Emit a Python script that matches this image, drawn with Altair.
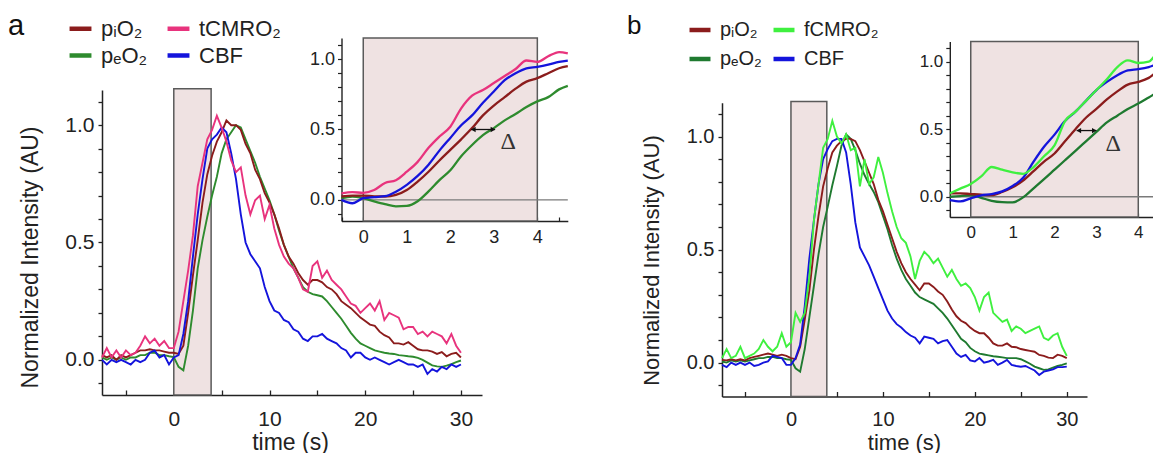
import altair as alt
import pandas as pd

W, H = 1145, 445
FONT = "Liberation Sans, Arial, DejaVu Sans, sans-serif"
INK = "#222222"

# ---------------- data ----------------
T_MAIN = [-7.5 + 0.5 * i for i in range(76)]
T_INSET = [-0.5, -0.25, 0.0, 0.25, 0.5, 0.75, 1.0, 1.25, 1.5, 1.75, 2.0,
           2.25, 2.5, 2.75, 3.0, 3.25, 3.5, 3.75, 4.0, 4.25, 4.5, 4.7]

PIO2 = "p\u1d62O\u2082"
PEO2 = "p\u2091O\u2082"
TCMRO2 = "tCMRO\u2082"
FCMRO2 = "fCMRO\u2082"
CBF = "CBF"

# legend is filled column by column: column 1 = pO2 pair, column 2 = CMRO2 / CBF
NAMES_A = [PIO2, PEO2, TCMRO2, CBF]
COLORS_A = ["#8b1c1c", "#2e8b2e", "#e8337d", "#1414dc"]
NAMES_B = [PIO2, PEO2, FCMRO2, CBF]
COLORS_B = ["#8b1c1c", "#1f7a30", "#3ff03f", "#1414dc"]
DRAW_A = [PEO2, PIO2, CBF, TCMRO2]
DRAW_B = [PEO2, PIO2, CBF, FCMRO2]

A_PIO2 = [0.02, 0.01, 0.02, 0.00, 0.02, 0.01, 0.02, 0.03, 0.04, 0.04,
          0.045, 0.04, 0.04, 0.035, 0.03, 0.03, 0.025, 0.06, 0.20, 0.36,
          0.51, 0.67, 0.79, 0.87, 0.93, 0.97, 1.02, 1.00, 1.00, 0.98,
          0.92, 0.88, 0.81, 0.77, 0.71, 0.67, 0.62, 0.56, 0.49, 0.44,
          0.41, 0.37, 0.34, 0.32, 0.34, 0.34, 0.33, 0.31, 0.30, 0.28,
          0.25, 0.235, 0.22, 0.20, 0.18, 0.165, 0.15, 0.145, 0.12, 0.105,
          0.095, 0.07, 0.07, 0.065, 0.075, 0.06, 0.045, 0.04, 0.04, 0.035,
          0.025, 0.033, 0.015, 0.025, 0.03, 0.01]
A_PEO2 = [0.01, 0.00, 0.01, 0.00, 0.01, 0.00, 0.01, 0.01, 0.02, 0.02,
          0.03, 0.03, 0.02, 0.02, 0.015, 0.012, -0.03, -0.045, 0.06, 0.21,
          0.39, 0.51, 0.61, 0.70, 0.78, 0.88, 0.94, 0.97, 1.00, 0.99,
          0.94, 0.89, 0.84, 0.78, 0.73, 0.68, 0.62, 0.55, 0.49, 0.44,
          0.39, 0.35, 0.31, 0.29, 0.28, 0.275, 0.27, 0.25, 0.225, 0.20,
          0.175, 0.145, 0.115, 0.09, 0.07, 0.06, 0.05, 0.04, 0.035, 0.03,
          0.027, 0.025, 0.02, 0.018, 0.015, 0.013, 0.008, 0.0, -0.012, -0.024,
          -0.028, -0.03, -0.025, -0.018, -0.01, -0.003]
A_TCMRO2 = [0.01, 0.05, 0.01, 0.04, 0.01, 0.04, 0.02, 0.03, 0.06, 0.10,
            0.07, 0.09, 0.06, 0.08, 0.05, 0.05, 0.12, 0.25, 0.38, 0.53,
            0.74, 0.84, 0.94, 0.98, 1.04, 0.99, 0.93, 0.85, 0.80, 0.82,
            0.70, 0.62, 0.68, 0.70, 0.60, 0.66, 0.56, 0.49, 0.44, 0.41,
            0.39, 0.35, 0.30, 0.29, 0.40, 0.42, 0.35, 0.38, 0.34, 0.32,
            0.30, 0.27, 0.24, 0.23, 0.20, 0.22, 0.24, 0.21, 0.25, 0.17,
            0.20, 0.19, 0.18, 0.13, 0.14, 0.14, 0.11, 0.12, 0.10, 0.12,
            0.11, 0.10, 0.07, 0.11, 0.06, 0.03]
A_CBF = [0.00, -0.02, 0.00, -0.01, 0.00, -0.01, -0.02, 0.00, -0.01, 0.00,
         0.03, 0.04, 0.01, 0.02, -0.02, 0.01, 0.02, 0.11, 0.25, 0.44,
         0.62, 0.77, 0.90, 0.94, 0.96, 0.99, 0.97, 0.88, 0.77, 0.62,
         0.50, 0.45, 0.42, 0.39, 0.31, 0.25, 0.21, 0.20, 0.17, 0.16,
         0.13, 0.12, 0.09, 0.08, 0.10, 0.10, 0.11, 0.09, 0.08, 0.07,
         0.05, 0.04, 0.01, 0.03, 0.03, 0.01, 0.00, 0.01, 0.00, -0.01,
         -0.02, -0.01, 0.00, -0.01, -0.02, -0.02, -0.03, -0.02, -0.06, -0.04,
         -0.05, -0.03, -0.04, -0.02, -0.03, -0.02]

B_PIO2 = [0.012, 0.01, 0.015, 0.01, 0.015, 0.01, 0.02, 0.025, 0.03, 0.035,
          0.04, 0.035, 0.03, 0.035, 0.03, 0.02, 0.015, 0.07, 0.19, 0.32,
          0.50, 0.65, 0.78, 0.86, 0.93, 0.96, 0.98, 0.99, 0.99, 0.98,
          0.94, 0.89, 0.84, 0.79, 0.72, 0.67, 0.61, 0.55, 0.49, 0.44,
          0.40, 0.37, 0.345, 0.32, 0.35, 0.35, 0.335, 0.315, 0.30, 0.27,
          0.235, 0.205, 0.185, 0.175, 0.155, 0.14, 0.13, 0.13, 0.11, 0.085,
          0.075, 0.075, 0.085, 0.07, 0.068, 0.06, 0.056, 0.052, 0.048, 0.034,
          0.03, 0.022, 0.02, 0.035, 0.03, 0.02]
B_PEO2 = [0.005, 0.0, 0.01, 0.005, 0.01, 0.005, 0.01, 0.015, 0.02, 0.02,
          0.025, 0.025, 0.02, 0.02, 0.015, 0.012, -0.025, -0.04, 0.06, 0.20,
          0.34, 0.48, 0.60, 0.69, 0.785, 0.87, 0.96, 1.01, 0.99, 0.94,
          0.88, 0.83, 0.79, 0.755, 0.71, 0.65, 0.59, 0.52, 0.46, 0.41,
          0.37, 0.34, 0.31, 0.29, 0.28, 0.27, 0.26, 0.24, 0.22, 0.195,
          0.165, 0.135, 0.105, 0.09, 0.065, 0.05, 0.04, 0.036, 0.032, 0.028,
          0.026, 0.023, 0.02, 0.02, 0.02, 0.015, 0.005, -0.005, -0.018, -0.025,
          -0.032, -0.03, -0.022, -0.015, -0.01, -0.003]
B_FCMRO2 = [0.02, 0.06, 0.02, 0.03, 0.07, 0.02, 0.03, 0.04, 0.06, 0.10,
            0.07, 0.05, 0.07, 0.13, 0.07, 0.09, 0.22, 0.18, 0.22, 0.38,
            0.63, 0.79, 0.95, 0.99, 1.07, 1.00, 0.97, 1.01, 0.94, 0.95,
            0.78, 0.90, 0.79, 0.82, 0.91, 0.84, 0.75, 0.67, 0.60, 0.55,
            0.53, 0.47, 0.37, 0.45, 0.49, 0.47, 0.44, 0.46, 0.42, 0.38,
            0.41, 0.37, 0.34, 0.35, 0.33, 0.29, 0.23, 0.29, 0.31, 0.22,
            0.20, 0.18, 0.19, 0.14, 0.16, 0.15, 0.13, 0.14, 0.15, 0.16,
            0.11, 0.10, 0.12, 0.13, 0.07, 0.03]
B_CBF = [-0.01, -0.02, 0.0, -0.01, 0.0, -0.01, 0.0, -0.015, -0.01, 0.0,
         0.005, 0.03, 0.025, 0.02, -0.01, -0.01, 0.02, 0.08, 0.25, 0.46,
         0.63, 0.79, 0.90, 0.945, 0.98, 0.99, 0.99, 0.93, 0.79, 0.62,
         0.51, 0.47, 0.43, 0.38, 0.33, 0.28, 0.23, 0.195, 0.17, 0.155,
         0.135, 0.12, 0.11, 0.085, 0.115, 0.11, 0.105, 0.085, 0.095, 0.10,
         0.07, 0.04, 0.025, 0.034, 0.01, 0.005, 0.02, 0.0, 0.005, 0.012,
         -0.01, 0.0, 0.012, -0.01, -0.015, -0.018, -0.015, -0.025, -0.035, -0.055,
         -0.04, -0.035, -0.03, -0.02, -0.02, -0.018]

IA_PIO2 = [0.024, 0.03, 0.03, 0.025, 0.024, 0.035, 0.07, 0.13, 0.2, 0.28, 0.355,
           0.43, 0.51, 0.6, 0.67, 0.73, 0.79, 0.84, 0.865, 0.9, 0.935, 0.95]
IA_PEO2 = [0.012, 0.024, 0.012, -0.01, -0.03, -0.046, -0.043, -0.01, 0.06, 0.14, 0.21,
           0.31, 0.39, 0.46, 0.51, 0.565, 0.61, 0.66, 0.70, 0.73, 0.785, 0.81]
IA_TCMRO2 = [0.047, 0.055, 0.05, 0.07, 0.12, 0.14, 0.2, 0.27, 0.37, 0.45, 0.52,
             0.65, 0.74, 0.78, 0.83, 0.88, 0.93, 0.99, 0.98, 1.02, 1.05, 1.04]
IA_CBF = [0.0, -0.024, 0.012, 0.02, 0.026, 0.058, 0.107, 0.17, 0.25, 0.35, 0.44,
          0.53, 0.6, 0.69, 0.77, 0.85, 0.9, 0.935, 0.945, 0.96, 0.98, 0.99]
IB_PIO2 = [0.025, 0.025, 0.02, 0.015, 0.012, 0.035, 0.07, 0.12, 0.19, 0.26, 0.32,
           0.41, 0.5, 0.585, 0.65, 0.72, 0.78, 0.83, 0.85, 0.88, 0.935, 0.95]
IB_PEO2 = [0.0, 0.005, 0.012, -0.008, -0.03, -0.04, -0.042, -0.005, 0.062, 0.13, 0.2,
           0.27, 0.34, 0.41, 0.48, 0.55, 0.6, 0.65, 0.69, 0.735, 0.78, 0.81]
IB_FCMRO2 = [0.025, 0.06, 0.094, 0.15, 0.22, 0.2, 0.18, 0.17, 0.22, 0.3, 0.38,
             0.56, 0.63, 0.71, 0.79, 0.87, 0.96, 1.01, 0.99, 1.0, 1.07, 1.07]
IB_CBF = [-0.025, -0.035, -0.012, 0.01, 0.02, 0.04, 0.08, 0.14, 0.26, 0.37, 0.46,
          0.56, 0.63, 0.71, 0.79, 0.85, 0.9, 0.935, 0.945, 0.96, 0.985, 0.99]

STIM_MAIN = [0.0, 3.9]
STIM_INSET = [0.0, 4.0]
DELTA_A = [2.48, 3.03, 0.5]
DELTA_B = [2.53, 3.0, 0.49]
DELTA_TXT_A = [3.33, 0.41]
DELTA_TXT_B = [3.4, 0.39]

X_MAIN_TICKS = [-5, 0, 5, 10, 15, 20, 25, 30]
Y_TICKS = [round(-0.1 + 0.1 * i, 1) for i in range(13)]
X_INSET_LABELS = [0, 1, 2, 3, 4]
X_INSET_TICKS = [-0.5, 0, 0.5, 1, 1.5, 2, 2.5, 3, 3.5, 4, 4.5]

Y_LABEL_EXPR = "abs(round(datum.value*10)) % 5 == 0 ? format(datum.value, '.1f') : ''"


def long(t, data, order):
    return pd.DataFrame([{"t": tt, "v": vv, "s": name}
                         for name in order for tt, vv in zip(t, data[name])])


def main_panel(df, names, colors, xr, yr, ax_x, ax_y, lab_size, title_size,
               leg, xt, yt):
    xsc = alt.Scale(domain=[-7.5, 32.2], range=xr, nice=False, zero=False)
    ysc = alt.Scale(domain=[-0.15, 1.15], range=yr, nice=False, zero=False)
    x_lab = alt.Axis(orient="bottom", offset=ax_x - H, values=X_MAIN_TICKS,
                     labelExpr="datum.value % 10 == 0 ? datum.label : ''",
                     ticks=False, tickSize=0, domainColor=INK, domainWidth=1.5,
                     labelFont=FONT, labelFontSize=lab_size, labelColor=INK,
                     labelPadding=13, labelOverlap=False, labelFlush=False, grid=False,
                     title="time (s)", titleFont=FONT, titleFontSize=title_size,
                     titleFontWeight="normal", titleColor=INK,
                     titleX=xt[0], titleY=xt[1], titleBaseline="middle", titleAlign="center")
    x_tick = alt.Axis(orient="bottom", offset=ax_x - H - 5, values=X_MAIN_TICKS,
                      labels=False, domain=False, ticks=True, tickSize=5,
                      tickColor=INK, tickWidth=1.3, grid=False, title=None)
    y_lab = alt.Axis(orient="left", offset=-ax_y, values=Y_TICKS, labelExpr=Y_LABEL_EXPR,
                     tickSize=4, tickColor=INK, tickWidth=1.3, domainColor=INK,
                     domainWidth=1.5, labelFont=FONT, labelFontSize=lab_size,
                     labelColor=INK, labelPadding=4, labelOverlap=False, labelFlush=False,
                     grid=False, title="Normalized Intensity (AU)", titleFont=FONT,
                     titleFontSize=title_size, titleFontWeight="normal", titleColor=INK,
                     titleX=yt[0], titleY=yt[1], titleBaseline="middle", titleAlign="center")
    stim = pd.DataFrame({"x": [STIM_MAIN[0]], "x2": [STIM_MAIN[1]],
                         "y": [-0.15], "y2": [1.155]})
    rect = alt.Chart(stim).mark_rect(fill="#efe2e2", stroke="#5a5a5a", strokeWidth=1.5).encode(
        x=alt.X("x:Q", scale=xsc, axis=None), x2="x2",
        y=alt.Y("y:Q", scale=ysc, axis=None), y2="y2")
    lines = alt.Chart(df).mark_line(strokeWidth=1.9).encode(
        x=alt.X("t:Q", scale=xsc, axis=x_lab),
        y=alt.Y("v:Q", scale=ysc, axis=y_lab),
        color=alt.Color("s:N", scale=alt.Scale(domain=names, range=colors), sort=names,
                        legend=alt.Legend(orient="none", legendX=leg[0], legendY=leg[1],
                                          columns=2, title=None, symbolType="stroke",
                                          symbolStrokeWidth=4.5, symbolSize=leg[2],
                                          labelFont=FONT, labelFontSize=leg[3],
                                          labelColor=INK, columnPadding=leg[4],
                                          rowPadding=leg[5], labelOffset=7, padding=0)))
    carrier = alt.Chart(df).mark_point(opacity=0, size=1).encode(
        x=alt.X("t:Q", scale=xsc, axis=x_tick),
        y=alt.Y("v:Q", scale=ysc, axis=None))
    return alt.layer(rect, lines, carrier).resolve_axis(x="independent", y="independent")


def inset_panel(df, names, colors, xr, yr, ax_x, ax_y, lab_size, delta, dtxt):
    xsc = alt.Scale(domain=[-0.5, 4.7], range=xr, nice=False, zero=False)
    ysc = alt.Scale(domain=[-0.15, 1.15], range=yr, nice=False, zero=False)
    x_lab = alt.Axis(orient="bottom", offset=ax_x - H, values=X_INSET_LABELS,
                     ticks=False, tickSize=0, domainColor=INK, domainWidth=1.4,
                     labelFont=FONT, labelFontSize=lab_size, labelColor=INK,
                     labelPadding=7, labelOverlap=False, labelFlush=False,
                     grid=False, title=None, format="d")
    x_tick = alt.Axis(orient="bottom", offset=ax_x - H - 4, values=X_INSET_TICKS,
                      labels=False, domain=False, tickSize=4, tickColor=INK,
                      tickWidth=1.2, grid=False, title=None)
    y_lab = alt.Axis(orient="left", offset=-ax_y, values=Y_TICKS, labelExpr=Y_LABEL_EXPR,
                     tickSize=4, tickColor=INK, tickWidth=1.2, domainColor=INK,
                     domainWidth=1.4, labelFont=FONT, labelFontSize=lab_size,
                     labelColor=INK, labelPadding=3, labelOverlap=False, labelFlush=False,
                     grid=False, title=None)
    stim = pd.DataFrame({"x": [STIM_INSET[0]], "x2": [STIM_INSET[1]],
                         "y": [-0.15], "y2": [1.15]})
    rect = alt.Chart(stim).mark_rect(fill="#efe2e2", stroke="#5a5a5a", strokeWidth=1.5).encode(
        x=alt.X("x:Q", scale=xsc, axis=None), x2="x2",
        y=alt.Y("y:Q", scale=ysc, axis=None), y2="y2")
    zero = pd.DataFrame({"x": [-0.5], "x2": [4.7], "y": [0.0]})
    zrule = alt.Chart(zero).mark_rule(color="#7a7a7a", strokeWidth=1.3).encode(
        x=alt.X("x:Q", scale=xsc, axis=None), x2="x2",
        y=alt.Y("y:Q", scale=ysc, axis=None))
    lines = alt.Chart(df).mark_line(strokeWidth=2.3, interpolate="monotone").encode(
        x=alt.X("t:Q", scale=xsc, axis=x_lab),
        y=alt.Y("v:Q", scale=ysc, axis=y_lab),
        color=alt.Color("s:N", scale=alt.Scale(domain=names, range=colors), legend=None))
    carrier = alt.Chart(df).mark_point(opacity=0, size=1).encode(
        x=alt.X("t:Q", scale=xsc, axis=x_tick),
        y=alt.Y("v:Q", scale=ysc, axis=None))
    arr = pd.DataFrame({"x": [delta[0]], "x2": [delta[1]], "y": [delta[2]]})
    arrow = alt.Chart(arr).mark_rule(color="#111", strokeWidth=1.3).encode(
        x=alt.X("x:Q", scale=xsc, axis=None), x2="x2",
        y=alt.Y("y:Q", scale=ysc, axis=None))
    heads = pd.DataFrame({"x": [delta[0] + 0.05, delta[1] - 0.05], "y": [delta[2]] * 2,
                          "shp": ["triangle-left", "triangle-right"]})
    head = alt.Chart(heads).mark_point(filled=True, color="#111", size=28, opacity=1).encode(
        x=alt.X("x:Q", scale=xsc, axis=None),
        y=alt.Y("y:Q", scale=ysc, axis=None),
        shape=alt.Shape("shp:N", scale=None))
    dt = pd.DataFrame({"x": [dtxt[0]], "y": [dtxt[1]], "txt": ["\u0394"]})
    dlabel = alt.Chart(dt).mark_text(font="Liberation Serif, DejaVu Serif, serif",
                                     fontSize=24, color="#333", align="center",
                                     baseline="middle").encode(
        x=alt.X("x:Q", scale=xsc, axis=None),
        y=alt.Y("y:Q", scale=ysc, axis=None), text="txt:N")
    return alt.layer(rect, zrule, lines, carrier, arrow, head, dlabel).resolve_axis(
        x="independent", y="independent")


df_a = long(T_MAIN, {PIO2: A_PIO2, PEO2: A_PEO2, TCMRO2: A_TCMRO2, CBF: A_CBF}, DRAW_A)
df_b = long(T_MAIN, {PIO2: B_PIO2, PEO2: B_PEO2, FCMRO2: B_FCMRO2, CBF: B_CBF}, DRAW_B)
di_a = long(T_INSET, {PIO2: IA_PIO2, PEO2: IA_PEO2, TCMRO2: IA_TCMRO2, CBF: IA_CBF}, DRAW_A)
di_b = long(T_INSET, {PIO2: IB_PIO2, PEO2: IB_PEO2, FCMRO2: IB_FCMRO2, CBF: IB_CBF}, DRAW_B)

main_a = main_panel(df_a, NAMES_A, COLORS_A, [94, 474], [387, 82], 387, 94, 21, 23,
                    (59, 7, 480, 22, 10, 2), (282, 47), (-72, 249))
main_b = main_panel(df_b, NAMES_B, COLORS_B, [714, 1079], [388.5, 94.7], 388.5, 714, 20, 22,
                    (679, 9, 440, 20, 2, 6), (896, 45.5), (-71, 252))
inset_a = inset_panel(di_a, NAMES_A, COLORS_A, [333.5, 559.8], [213, 30], 213, 333.5, 18,
                      DELTA_A, DELTA_TXT_A)
inset_b = inset_panel(di_b, NAMES_B, COLORS_B, [941.8, 1159.6], [209, 33.4], 209, 941.8, 17,
                      DELTA_B, DELTA_TXT_B)

lab_a = alt.Chart(pd.DataFrame({"p": ["a"]})).mark_text(
    font=FONT, fontSize=29, color="#111", align="left", baseline="alphabetic").encode(
    text="p:N", x=alt.value(0), y=alt.value(27))
lab_b = alt.Chart(pd.DataFrame({"p": ["b"]})).mark_text(
    font=FONT, fontSize=26, color="#111", align="left", baseline="alphabetic").encode(
    text="p:N", x=alt.value(619), y=alt.value(26))

chart = alt.layer(main_a, inset_a, main_b, inset_b, lab_a, lab_b).resolve_scale(
    x="independent", y="independent", color="independent", shape="independent"
).resolve_axis(x="independent", y="independent").resolve_legend(
    color="independent").properties(
    width=W, height=H, padding=0, autosize=alt.AutoSizeParams(type="none")
).configure_view(stroke=None)

chart.save("out.html", embed_options={"renderer": "svg", "actions": False})
